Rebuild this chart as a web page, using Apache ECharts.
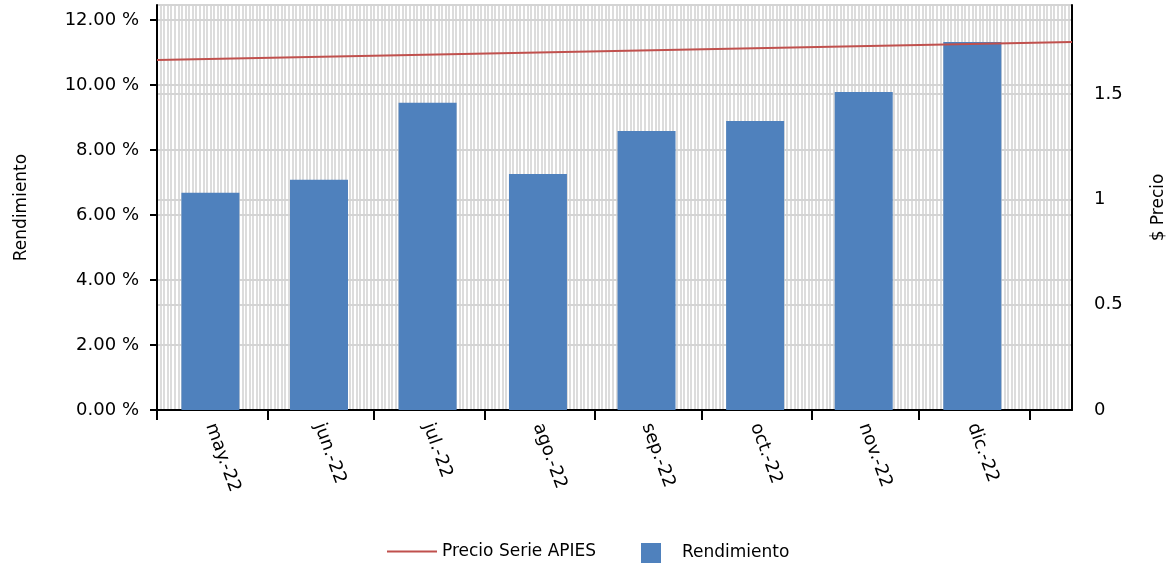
<!DOCTYPE html>
<html>
<head>
<meta charset="utf-8">
<script src="https://cdn.jsdelivr.net/npm/echarts@6/dist/echarts.min.js"></script>
<style>html,body{margin:0;padding:0;background:#fff}#chart{width:1172px;height:566px}</style>
</head>
<body>
<div id="chart"></div>
<script>
// x axis in days since 1 May 2022
const monthStarts = [0, 31, 61, 92, 123, 153, 184, 214, 245];
const monthLabels = ['may.-22', 'jun.-22', 'jul.-22', 'ago.-22', 'sep.-22', 'oct.-22', 'nov.-22', 'dic.-22'];
const monthMids = [15, 45.5, 76, 107, 137.5, 168, 198.5, 229];
const rendimiento = [6.68, 7.08, 9.45, 7.26, 8.58, 8.89, 9.78, 11.32];
const precioDays = [0, 257];
const precio = [1.661, 1.747];

const font = 'DejaVu Sans';
const legendText = { fontSize: 17, color: '#000', fontFamily: font };
const chart = echarts.init(document.getElementById('chart'));
chart.setOption({
	animation: false,
	textStyle: { fontFamily: font },
	grid: { left: 157, right: 100, top: 5, bottom: 156, outerBoundsMode: 'none' },
	legend: [{
		top: 538,
		left: 382,
		textStyle: legendText,
		data: [{ name: 'Precio Serie APIES', icon: 'rect', itemStyle: { color: '#c0504d', opacity: 1 } }],
		itemWidth: 50,
		itemHeight: 2
	}, {
		top: 538,
		left: 636,
		textStyle: { ...legendText, padding: [0, 0, 0, 16] },
		data: [{ name: 'Rendimiento', icon: 'rect' }],
		itemWidth: 20,
		itemHeight: 20
	}],
	xAxis: [{
		type: 'value',
		min: 0,
		max: 257,
		axisLine: { lineStyle: { color: '#000', width: 2 } },
		axisTick: { show: true, customValues: monthStarts, length: 10, lineStyle: { color: '#000', width: 2 } },
		axisLabel: {
			customValues: monthMids,
			rotate: -70,
			fontSize: 18,
			color: '#000',
			margin: 14,
			formatter: v => monthLabels[monthMids.indexOf(v)]
		},
		splitLine: { show: false }
	}, {
		type: 'value',
		min: 0,
		max: 257,
		interval: 1,
		position: 'bottom',
		axisLine: { show: false },
		axisTick: { show: false },
		axisLabel: { show: false },
		splitLine: { show: true, lineStyle: { color: '#d4d4d4', width: 1.6 } }
	}],
	yAxis: [{
		type: 'value',
		min: 0,
		max: 12.46,
		interval: 2,
		name: 'Rendimiento',
		nameLocation: 'middle',
		nameRotate: 90,
		nameGap: 127,
		nameTextStyle: { fontSize: 17, color: '#000' },
		axisLine: { show: true, lineStyle: { color: '#000', width: 2 } },
		axisTick: { show: true, length: 7, lineStyle: { color: '#000', width: 2 } },
		axisLabel: { fontSize: 18, color: '#000', margin: 18, showMaxLabel: false, formatter: v => v.toFixed(2) + ' %' },
		splitLine: { show: true, lineStyle: { color: '#d4d4d4', width: 2 } }
	}, {
		type: 'value',
		min: 0,
		max: 1.922,
		interval: 0.5,
		position: 'right',
		name: '$ Precio',
		nameLocation: 'middle',
		nameRotate: 90,
		nameGap: 78,
		nameTextStyle: { fontSize: 17, color: '#000' },
		axisLine: { show: true, onZero: false, lineStyle: { color: '#000', width: 2 } },
		axisTick: { show: false },
		axisLabel: { fontSize: 18, color: '#000', margin: 22, showMaxLabel: false },
		splitLine: { show: true, lineStyle: { color: '#d4d4d4', width: 2 } }
	}],
	series: [{
		name: 'Rendimiento',
		type: 'bar',
		barWidth: 58,
		itemStyle: { color: '#4f81bd' },
		data: monthMids.map((d, i) => [d, rendimiento[i]])
	}, {
		name: 'Precio Serie APIES',
		type: 'line',
		yAxisIndex: 1,
		symbol: 'none',
		lineStyle: { color: '#c0504d', width: 2 },
		itemStyle: { color: '#c0504d' },
		data: precioDays.map((d, i) => [d, precio[i]])
	}]
});
</script>
</body>
</html>
